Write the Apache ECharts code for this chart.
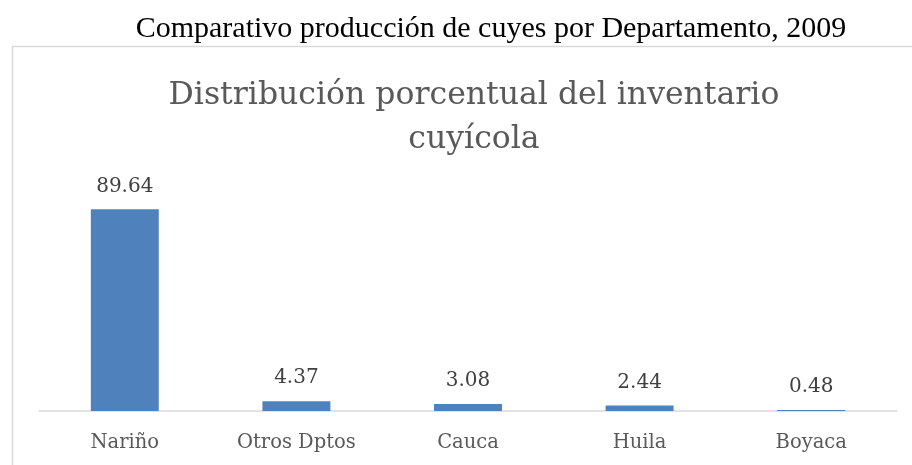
<!DOCTYPE html>
<html>
<head>
<meta charset="utf-8">
<script src="https://cdn.jsdelivr.net/npm/echarts@6/dist/echarts.min.js"></script>
<style>
	html, body {margin: 0; padding: 0; background: #fff;}
	#container {width: 912px; height: 465px;}
</style>
</head>
<body>
<div id="container"></div>
<script>
const categories = ['Nariño', 'Otros Dptos', 'Cauca', 'Huila', 'Boyaca'];
const values = [89.64, 4.37, 3.08, 2.44, 0.48];
const pageTitle = 'Comparativo producción de cuyes por Departamento, 2009';
const chartTitle = 'Distribución porcentual del inventario\ncuyícola';

const chart = echarts.init(document.getElementById('container'));
chart.setOption({
	animation: false,
	graphic: [{
		type: 'rect', left: 10, top: 44, silent: true,
		shape: {width: 1000, height: 500},
		style: {fill: 'none', stroke: '#d9d9d9', lineWidth: 1.5}
	}, {
		type: 'text', x: 491, y: 14,
		style: {text: pageTitle, font: '30px "Liberation Serif"', fill: '#000', textAlign: 'center'}
	}],
	title: {
		text: chartTitle, left: 469, top: 69, textAlign: 'center',
		textStyle: {
			color: '#595959', fontFamily: 'DejaVu Serif', fontWeight: 'normal', fontSize: 31.5, lineHeight: 44
		}
	},
	grid: {left: 39, right: 15, top: 186, bottom: 54},
	xAxis: {
		type: 'category', data: categories,
		axisLine: {lineStyle: {color: '#d9d9d9', width: 1.5}},
		axisTick: {show: false},
		axisLabel: {color: '#595959', fontFamily: 'DejaVu Serif', fontSize: 19.5, margin: 22}
	},
	yAxis: {
		type: 'value', min: 0, max: 100, show: false
	},
	series: [{
		type: 'bar', data: values, barWidth: '39.6%',
		itemStyle: {color: '#4f81bd'},
		label: {
			show: true, position: 'top', distance: 13,
			color: '#404040', fontFamily: 'DejaVu Serif', fontSize: 20
		}
	}]
});
</script>
</body>
</html>
